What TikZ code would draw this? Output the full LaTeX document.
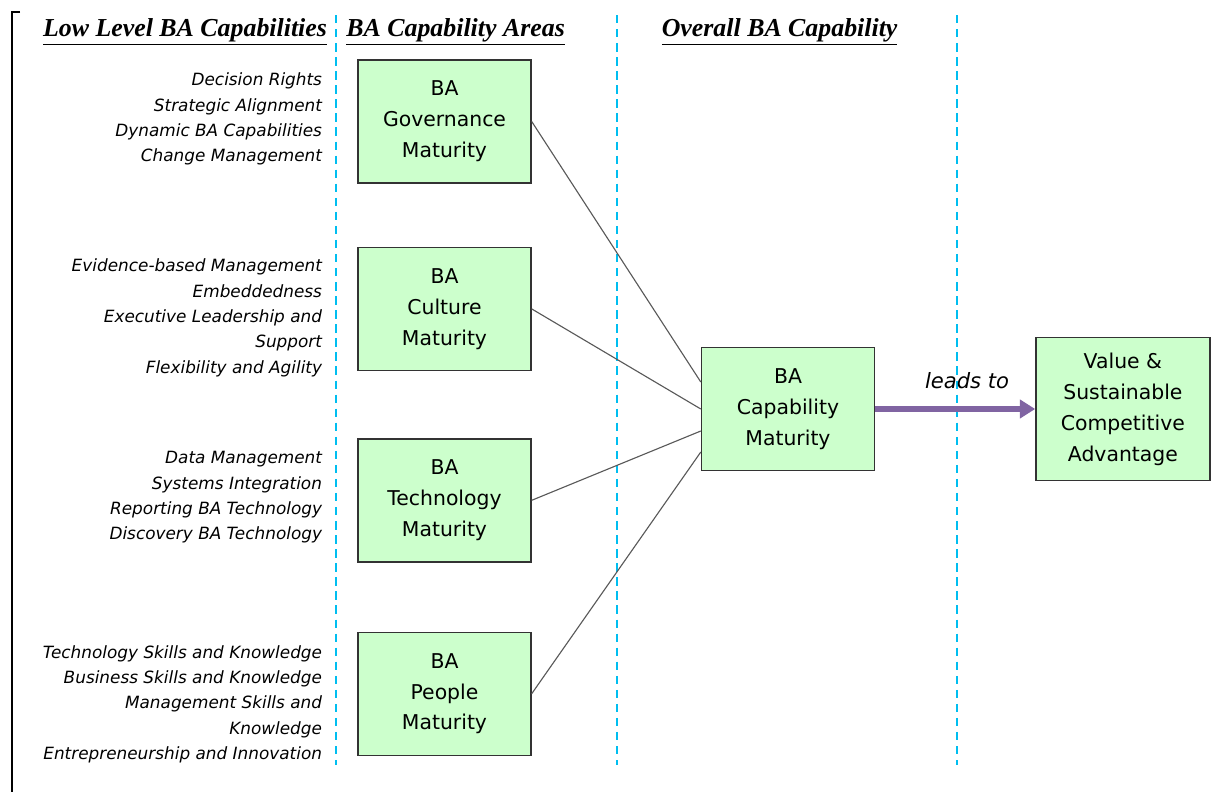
\documentclass[tikz,border=0pt]{standalone}
\usepackage{fontspec}
\setmainfont{Liberation Serif}
\newfontfamily\handfont{DejaVu Sans}
\usepackage{xcolor}
\usetikzlibrary{arrows.meta,positioning}
\definecolor{boxgreen}{RGB}{204,255,204}
\definecolor{guideblue}{RGB}{0,190,240}
\definecolor{leadpurple}{RGB}{128,100,162}

\begin{document}
\begin{tikzpicture}[
        block/.style={rectangle, draw=black!80, line width=1pt, fill=boxgreen,
                     minimum width=4.325cm, minimum height=3.075cm, align=center,
                     font=\handfont\fontsize{14.5}{22}\selectfont},
        items/.style={align=right, inner sep=0pt, font=\handfont\itshape\fontsize{12}{18}\selectfont},
        heading/.style={font=\bfseries\itshape\fontsize{18.4}{22}\selectfont},
        guide/.style={draw=guideblue, line width=1.3pt, dash pattern=on 6pt off 4pt},
        line/.style={draw=black!65, line width=0.8pt},
        leads/.style={draw=leadpurple, line width=4pt, -{Triangle[length=11pt,width=13pt]}}
      ]
        \useasboundingbox (0,0) rectangle (30.275,-19.8);
        
        % Frame and column guides
        \draw[line width=1pt] (0.5,-0.3) -- (0.3,-0.3) -- (0.3,-19.8);
        \foreach \x in {8.4,15.425,23.925}
          \draw[guide] (\x,-0.375) -- (\x,-19.125);
        
        % Headings
        \node [heading] (lowhead) at (4.625,-0.8) {\underline{Low Level BA Capabilities}};
        \node [heading] (areahead) at (11.39,-0.8) {\underline{BA Capability Areas}};
        \node [heading] (overallhead) at (19.49,-0.8) {\underline{Overall BA Capability}};
        
        % Capability areas
        \node [block] (gov) at (11.1125,-3.0375) {BA\\Governance\\Maturity};
        \node [block, below=1.575cm of gov] (culture) {BA\\Culture\\Maturity};
        \node [block, below=1.675cm of culture] (tech) {BA\\Technology\\Maturity};
        \node [block, below=1.725cm of tech] (people) {BA\\People\\Maturity};
        
        % Low level capabilities
        \node [items, left=0.875cm of gov, yshift=0.0625cm] (govitems)
          {Decision Rights\\Strategic Alignment\\Dynamic BA Capabilities\\Change Management};
        \node [items, left=0.875cm of culture, yshift=-0.225cm] (cultureitems)
          {Evidence-based Management\\Embeddedness\\Executive Leadership and\\Support\\Flexibility and Agility};
        \node [items, left=0.875cm of tech, yshift=0.075cm] (techitems)
          {Data Management\\Systems Integration\\Reporting BA Technology\\Discovery BA Technology};
        \node [items, left=0.875cm of people, yshift=-0.2625cm] (peopleitems)
          {Technology Skills and Knowledge\\Business Skills and Knowledge\\Management Skills and\\Knowledge\\Entrepreneurship and Innovation};
        
        % Overall capability and outcome
        \node [block] (cap) at (19.7,-10.225) {BA\\Capability\\Maturity};
        \node [block, right=4cm of cap, minimum width=4.35cm, minimum height=3.575cm] (value)
          {Value \&\\Sustainable\\Competitive\\Advantage};
        
        % Lines
        \draw [line] (gov.east) -- ([yshift=0.675cm]cap.west);
        \draw [line] (culture.east) -- (cap.west);
        \draw [line] (tech.east) -- ([yshift=-0.55cm]cap.west);
        \draw [line] (people.east) -- ([yshift=-1.075cm]cap.west);
        \draw [leads] (cap) -- (value);
        
        % Labels
        \node [font=\handfont\itshape\fontsize{15}{18}\selectfont] (leadslabel) at (24.175,-9.525) {leads to};
      \end{tikzpicture}
\end{document}
